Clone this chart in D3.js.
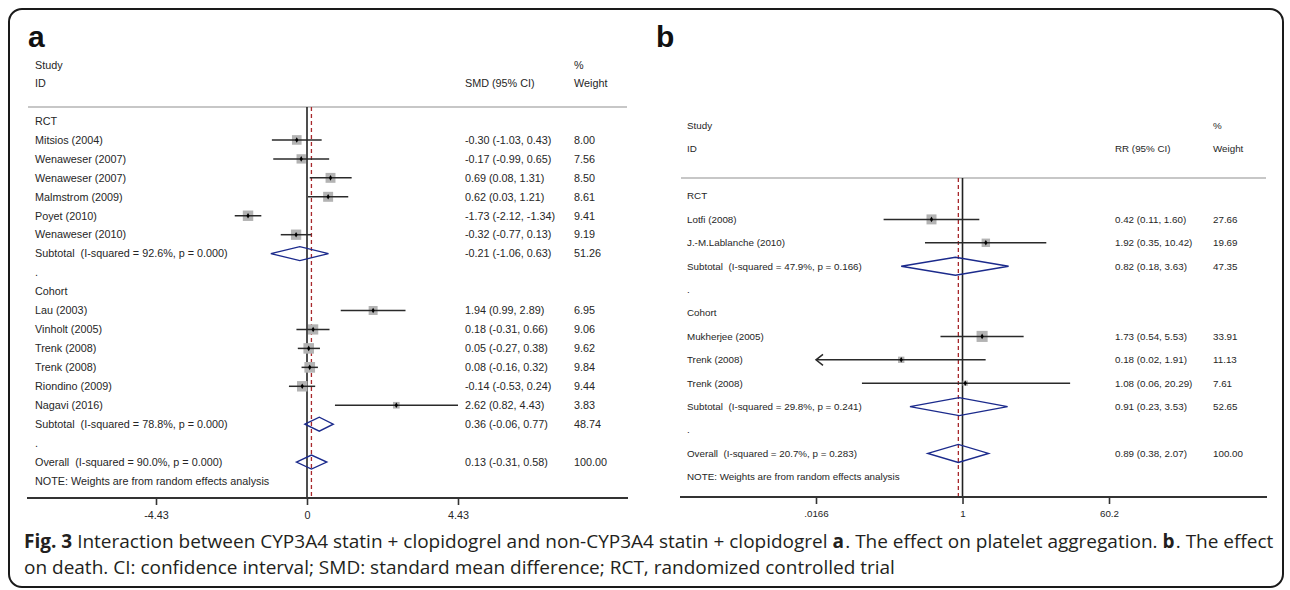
<!DOCTYPE html>
<html>
<head>
<meta charset="utf-8">
<script src="https://cdn.jsdelivr.net/npm/d3@7"></script>
<style>
  html, body { margin: 0; padding: 0; background: #fff; }
  svg { display: block; }
  text { white-space: pre; }
</style>
</head>
<body>
<svg id="chart" width="1290" height="590"></svg>
<script>
// ---------- Panel a data (SMD) ----------
const aLabels = ["RCT","Mitsios (2004)","Wenaweser (2007)","Wenaweser (2007)","Malmstrom (2009)","Poyet (2010)","Wenaweser (2010)","Subtotal  (I-squared = 92.6%, p = 0.000)",".","Cohort","Lau (2003)","Vinholt (2005)","Trenk (2008)","Trenk (2008)","Riondino (2009)","Nagavi (2016)","Subtotal  (I-squared = 78.8%, p = 0.000)",".","Overall  (I-squared = 90.0%, p = 0.000)","NOTE: Weights are from random effects analysis"];
const aKinds  = ["head","study","study","study","study","study","study","pool","blank","head","study","study","study","study","study","study","pool","blank","pool","note"];
const aEst    = [null,-0.30,-0.17,0.69,0.62,-1.73,-0.32,-0.21,null,null,1.94,0.18,0.05,0.08,-0.14,2.62,0.36,null,0.13,null];
const aLow    = [null,-1.03,-0.99,0.08,0.03,-2.12,-0.77,-1.06,null,null,0.99,-0.31,-0.27,-0.16,-0.53,0.82,-0.06,null,-0.31,null];
const aHigh   = [null,0.43,0.65,1.31,1.21,-1.34,0.13,0.63,null,null,2.89,0.66,0.38,0.32,0.24,4.43,0.77,null,0.58,null];
const aWeight = [null,8.00,7.56,8.50,8.61,9.41,9.19,51.26,null,null,6.95,9.06,9.62,9.84,9.44,3.83,48.74,null,100.00,null];
const aTicks  = [-4.43, 0, 4.43];
const aTickLabels = ["-4.43", "0", "4.43"];
const aOverall = 0.13;

// ---------- Panel b data (RR) ----------
const bLabels = ["RCT","Lotfi (2008)","J.-M.Lablanche (2010)","Subtotal  (I-squared = 47.9%, p = 0.166)",".","Cohort","Mukherjee (2005)","Trenk (2008)","Trenk (2008)","Subtotal  (I-squared = 29.8%, p = 0.241)",".","Overall  (I-squared = 20.7%, p = 0.283)","NOTE: Weights are from random effects analysis"];
const bKinds  = ["head","study","study","pool","blank","head","study","study","study","pool","blank","pool","note"];
const bEst    = [null,0.42,1.92,0.82,null,null,1.73,0.18,1.08,0.91,null,0.89,null];
const bLow    = [null,0.11,0.35,0.18,null,null,0.54,0.016,0.06,0.23,null,0.38,null];
const bHigh   = [null,1.60,10.42,3.63,null,null,5.53,1.91,20.29,3.53,null,2.07,null];
const bWeight = [null,27.66,19.69,47.35,null,null,33.91,11.13,7.61,52.65,null,100.00,null];
const bTicks  = [0.0166, 1, 60.2];
const bTickLabels = [".0166", "1", "60.2"];
const bOverall = 0.89;

// ---------- Caption ----------
const captionLine1 = [["Fig. 3", true], ["Interaction between CYP3A4 statin + clopidogrel and non-CYP3A4 statin + clopidogrel", false], ["a", true], [". The effect on platelet aggregation.", false], ["b", true], [". The effect", false]];
const captionSpaceAfter = [true, true, false, true, false, false];
const captionLine2 = [["on death. CI: confidence interval; SMD: standard mean difference; RCT, randomized controlled trial", false]];

const svg = d3.select("#chart");
const TXT = "#262626";
const NAVY = "#1b2a8c";
const RED = "#a8282c";

svg.append("rect").attr("x", 9).attr("y", 9).attr("width", 1274).attr("height", 578)
  .attr("rx", 13).attr("fill", "none").attr("stroke", "#1a1a1a").attr("stroke-width", 2);

function panel(cfg) {
  const g = svg.append("g");
  const x = cfg.scale;
  const n = cfg.labels.length;
  const y = i => cfg.y0 + i * cfg.step;
  const font = "'Liberation Sans', Arial, sans-serif";

  g.append("text").attr("x", cfg.letterX).attr("y", cfg.letterY)
    .attr("font-family", font).attr("font-weight", "bold").attr("font-size", 30)
    .attr("fill", "#111").text(cfg.letter);

  const t = (xx, yy, s, anchor) => g.append("text").attr("x", xx).attr("y", yy)
      .attr("dy", "0.35em").attr("font-family", font).attr("font-size", cfg.fs)
      .attr("fill", TXT).attr("text-anchor", anchor || "start").text(s);

  t(cfg.labelX, cfg.hy1, "Study");
  t(cfg.labelX, cfg.hy2, "ID");
  t(cfg.estX, cfg.hy2, cfg.estHead);
  t(cfg.wX, cfg.hy1, "%");
  t(cfg.wX, cfg.hy2, "Weight");

  g.append("line").attr("x1", cfg.left).attr("x2", cfg.right)
    .attr("y1", cfg.ruleY).attr("y2", cfg.ruleY)
    .attr("stroke", "#b4b4b4").attr("stroke-width", 1.6);

  g.append("line").attr("x1", x(cfg.nullV)).attr("x2", x(cfg.nullV))
    .attr("y1", cfg.ruleY).attr("y2", cfg.axisY)
    .attr("stroke", "#222").attr("stroke-width", 1.6);
  g.append("line").attr("x1", x(cfg.overall)).attr("x2", x(cfg.overall))
    .attr("y1", cfg.ruleY).attr("y2", cfg.axisY)
    .attr("stroke", RED).attr("stroke-width", 1.3).attr("stroke-dasharray", "4,3");

  const [xmin, xmax] = x.range();
  for (let i = 0; i < n; i++) {
    const k = cfg.kinds[i];
    const yy = y(i);
    t(cfg.labelX, yy, cfg.labels[i]);
    if (k === "study") {
      const lo = Math.max(x(cfg.low[i]), xmin), hi = Math.min(x(cfg.high[i]), xmax);
      const side = cfg.sq * Math.sqrt(cfg.weight[i]);
      g.append("rect").attr("x", x(cfg.est[i]) - side / 2).attr("y", yy - side / 2)
        .attr("width", side).attr("height", side).attr("fill", "#b3b3b3");
      g.append("line").attr("x1", lo).attr("x2", hi).attr("y1", yy).attr("y2", yy)
        .attr("stroke", "#2a2a2a").attr("stroke-width", 1.5);
      if (x(cfg.low[i]) < xmin) {
        g.append("path").attr("d", `M${xmin + 7},${yy - 5.5}L${xmin},${yy}L${xmin + 7},${yy + 5.5}`)
          .attr("fill", "none").attr("stroke", "#2a2a2a").attr("stroke-width", 1.5);
      }
      g.append("path").attr("d", d3.symbol(d3.symbolDiamond, 9)())
        .attr("transform", `translate(${x(cfg.est[i])},${yy})`).attr("fill", "#000");
    }
    if (k === "pool") {
      const h = cfg.dh;
      const d = `M${x(cfg.low[i])},${yy}L${x(cfg.est[i])},${yy - h}L${x(cfg.high[i])},${yy}L${x(cfg.est[i])},${yy + h}Z`;
      g.append("path").attr("d", d).attr("fill", "none").attr("stroke", NAVY).attr("stroke-width", 1.4);
    }
    if (k === "study" || k === "pool") {
      t(cfg.estX, yy, `${cfg.est[i].toFixed(2)} (${cfg.low[i].toFixed(2)}, ${cfg.high[i].toFixed(2)})`);
      t(cfg.wX, yy, cfg.weight[i].toFixed(2));
    }
  }

  g.append("line").attr("x1", cfg.left - 1).attr("x2", cfg.right + 1)
    .attr("y1", cfg.axisY).attr("y2", cfg.axisY)
    .attr("stroke", "#333").attr("stroke-width", 2);
  const ax = g.append("g").attr("transform", `translate(0,${cfg.axisY})`)
    .call(d3.axisBottom(x).tickValues(cfg.ticks)
      .tickFormat((d, i) => cfg.tickLabels[i]).tickSize(7).tickSizeOuter(0).tickPadding(6));
  ax.select(".domain").remove();
  ax.selectAll(".tick line").attr("stroke", "#333").attr("stroke-width", 1.6);
  ax.selectAll(".tick text").attr("font-family", font).attr("font-size", cfg.fs).attr("fill", TXT);
}

panel({
  letter: "a", letterX: 28, letterY: 47,
  labels: aLabels, kinds: aKinds, est: aEst, low: aLow, high: aHigh, weight: aWeight,
  ticks: aTicks, tickLabels: aTickLabels, overall: aOverall, nullV: 0,
  scale: d3.scaleLinear().domain([-4.43, 4.43]).range([156, 458]),
  labelX: 35, estX: 465, wX: 574, estHead: "SMD (95% CI)",
  hy1: 65, hy2: 83, ruleY: 107, left: 28, right: 627,
  y0: 121, step: 18.95, axisY: 498, fs: 10.8, sq: 3.4, dh: 7
});

panel({
  letter: "b", letterX: 656, letterY: 47,
  labels: bLabels, kinds: bKinds, est: bEst, low: bLow, high: bHigh, weight: bWeight,
  ticks: bTicks, tickLabels: bTickLabels, overall: bOverall, nullV: 1,
  scale: d3.scaleLog().domain([0.0166, 60.2]).range([816, 1109]),
  labelX: 687, estX: 1115, wX: 1213, estHead: "RR (95% CI)",
  hy1: 126, hy2: 149, ruleY: 178, left: 681, right: 1266,
  y0: 196, step: 23.4, axisY: 497, fs: 9.8, sq: 1.9, dh: 9
});

// caption: separate text runs, laid out left to right with real gaps between them
function captionLine(runs, spaces, x0, yBase) {
  const fs = 19;
  const probe = svg.append("text").attr("font-family", "'Open Sans', sans-serif")
    .attr("font-size", fs).text("a a");
  const wSpace = probe.node().getComputedTextLength();
  probe.text("aa");
  const spaceW = wSpace - probe.node().getComputedTextLength();
  probe.remove();
  let cx = x0;
  runs.forEach(([s, bold], i) => {
    const el = svg.append("text").attr("x", cx).attr("y", yBase)
      .attr("font-family", "'Open Sans', sans-serif").attr("font-size", fs)
      .attr("font-weight", bold ? "bold" : "normal").attr("fill", "#231f20").text(s);
    cx += el.node().getComputedTextLength() + (spaces && spaces[i] ? spaceW : 1.2);
  });
}
captionLine(captionLine1, captionSpaceAfter, 24, 547.5);
captionLine(captionLine2, null, 24, 574);
</script>
</body>
</html>
